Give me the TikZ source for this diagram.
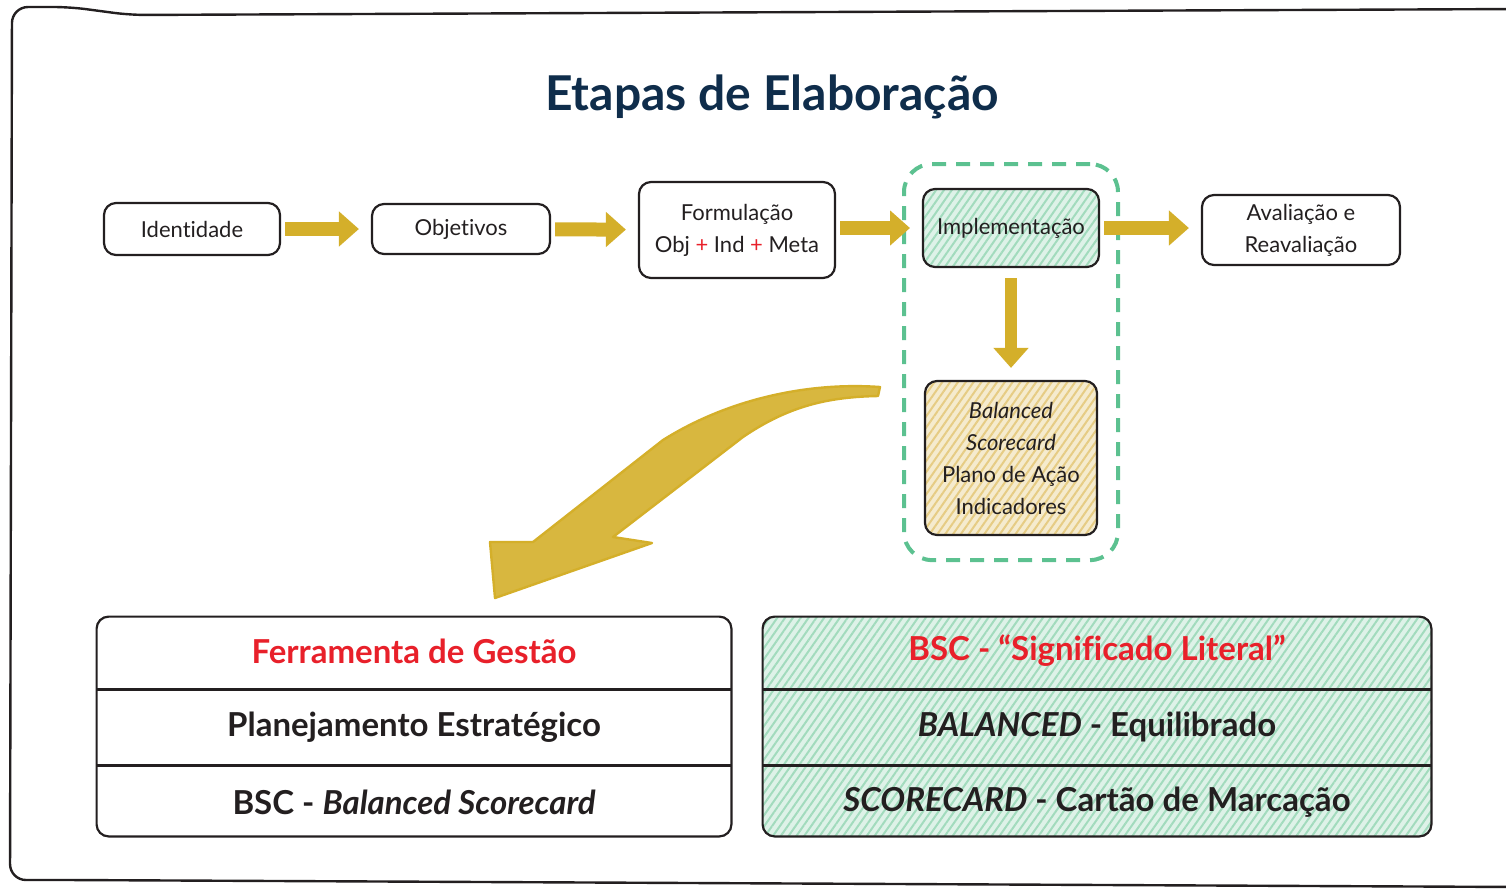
\documentclass[tikz,border=0pt]{standalone}
\usepackage{fontspec}
\setmainfont{Lato}[Ligatures=NoCommon]
\usetikzlibrary{arrows.meta,positioning,fit,patterns.meta,backgrounds}

\definecolor{ouro}{HTML}{D4AF2A}
\definecolor{ouroclaro}{HTML}{E6CC84}
\definecolor{verde}{HTML}{5CC190}
\definecolor{verdeclaro}{HTML}{A2DBBD}
\definecolor{vermelho}{HTML}{E8202A}
\definecolor{azul}{HTML}{0F2D4B}
\definecolor{tinta}{HTML}{231F20}

\tikzset{
  etapa/.style={draw=tinta, line width=1.1pt, rounded corners=6pt, align=center,
    font=\fontsize{11}{16}\selectfont, text=tinta, inner sep=2pt},
  seta/.style={draw=ouro, line width=7pt, -{Triangle[length=10pt,width=17pt]},
    shorten <=2pt, shorten >=6pt},
  hachuraverde/.style={preaction={fill=verdeclaro!35},
    pattern={Lines[angle=55,distance=3.2pt,line width=1pt]}, pattern color=verdeclaro},
  hachuraouro/.style={preaction={fill=ouroclaro!40},
    pattern={Lines[angle=55,distance=3.2pt,line width=1pt]}, pattern color=ouroclaro},
  linha/.style={minimum width=317pt, minimum height=38pt, inner sep=0pt,
    font=\bfseries\fontsize{16.5}{19}\selectfont, text=tinta},
  tabela/.style={draw=tinta, line width=1.1pt, rounded corners=6pt, inner xsep=0pt, inner ysep=-2pt},
}

\begin{document}
\begin{tikzpicture}[x=0.5pt,y=-0.5pt]
    \useasboundingbox (0,0) rectangle (1506,891);

    % Moldura
    \draw[tinta, line width=1.2pt, rounded corners=8pt]
      (1520,9) -- (130,15) -- (70,7) -- (12,7) -- (10,880) -- (70,880) -- (1520,887);

    % Título
    \node[font=\bfseries\fontsize{24}{28}\selectfont, text=azul] (titulo) at (772,97) {Etapas de Elaboração};

    % Etapas
    \node[etapa, minimum width=88pt, minimum height=26pt] (ident) at (192,229) {Identidade};
    \node[etapa, minimum width=89pt, minimum height=25pt] (obj) at (461,229) {Objetivos};
    \node[etapa, minimum width=98pt, minimum height=48pt] (form) at (737,230)
      {Formulação\\Obj {\color{vermelho}+} Ind {\color{vermelho}+} Meta};
    \node[etapa, hachuraverde, minimum width=88pt, minimum height=39pt] (impl) at (1011,228) {Implementação};
    \node[etapa, minimum width=99pt, minimum height=35pt] (aval) at (1301,230) {Avaliação e\\Reavaliação};
    \node[etapa, hachuraouro, minimum width=86pt, minimum height=77pt] (bsc) at (1011,458)
      {\textit{Balanced}\\\textit{Scorecard}\\Plano de Ação\\Indicadores};

    % Grupo da implementação
    \node[draw=verde, dash pattern=on 7pt off 5pt, line width=2pt, rounded corners=14pt,
      fit=(impl)(bsc), inner xsep=9pt, inner ysep=12pt] (grupo) {};

    % Setas
    \draw[seta] (ident) -- (obj);
    \draw[seta] (obj) -- (form);
    \draw[seta] (form.east |- impl) -- (impl);
    \draw[seta] (impl) -- (aval.west |- impl);
    \draw[seta, line width=6pt, shorten <=5pt, shorten >=6pt] (impl) -- (bsc);

    % Seta curva
    \draw[ouro, line width=1.2pt, fill=ouro!90, line join=round]
      (880,387) .. controls (810,382) and (730,398) .. (663,440) -- (533,542)
      -- (490,542) -- (495,598) -- (652,543) -- (613,537) -- (743,437)
      .. controls (790,405) and (830,397) .. (878,396) -- cycle;

    % Tabela da esquerda
    \node[linha, text=vermelho] (gestao) at (414,651) {Ferramenta de Gestão};
    \node[linha] (plan) at (414,727) {Planejamento Estratégico};
    \node[linha] (bscA) at (414,802) {BSC - \textit{Balanced Scorecard}};
    \node[tabela, fit=(gestao)(bscA)] (tabA) {};
    \draw[tinta, line width=1.1pt] (gestao.south west) -- (gestao.south east);
    \draw[tinta, line width=1.1pt] (plan.south west) -- (plan.south east);

    % Tabela da direita
    \node[linha, minimum width=334pt, text=vermelho] (literal) at (1097,651) {BSC - “Significado Literal”};
    \node[linha, minimum width=334pt] (equil) at (1097,727) {\textit{BALANCED} - Equilibrado};
    \node[linha, minimum width=334pt] (marca) at (1097,802) {\textit{SCORECARD} - Cartão de Marcação};
    \begin{scope}[on background layer]
      \node[tabela, hachuraverde, fit=(literal)(marca)] (tabB) {};
    \end{scope}
    \draw[tinta, line width=1.1pt] (literal.south west) -- (literal.south east);
    \draw[tinta, line width=1.1pt] (equil.south west) -- (equil.south east);
\end{tikzpicture}
\end{document}
